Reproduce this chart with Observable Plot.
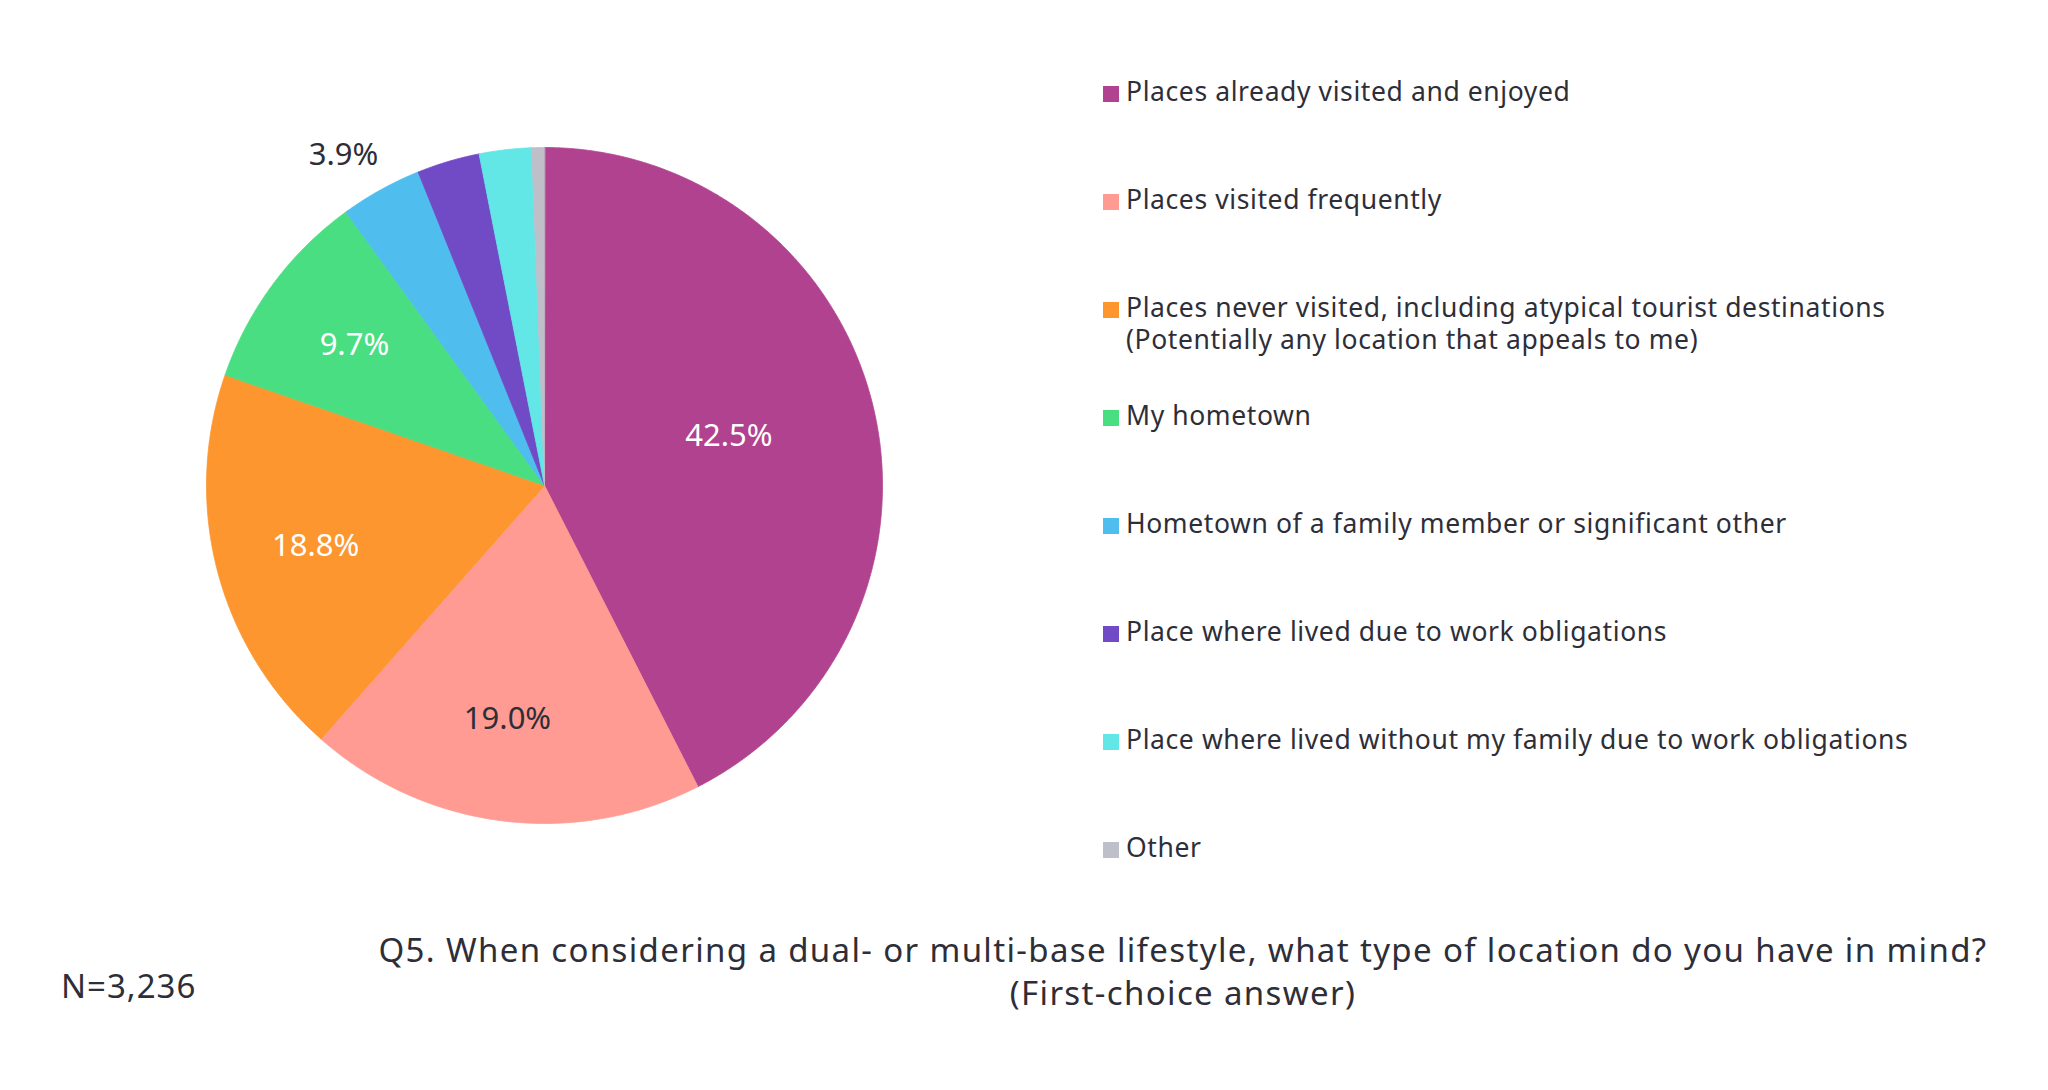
<!DOCTYPE html>
<html>
<head>
<meta charset="utf-8">
<script src="https://cdn.jsdelivr.net/npm/d3@7"></script>
<script src="https://cdn.jsdelivr.net/npm/@observablehq/plot@0.6"></script>
<style>
  html, body { margin: 0; padding: 0; background: #ffffff; }
  body { width: 2048px; height: 1090px; overflow: hidden; position: relative;
         font-family: "Noto Sans", sans-serif; color: #2e2e38; }
  #chart { position: absolute; left: 0; top: 0; }
  .lg-row { position: absolute; left: 1103px; }
  .lg-sw { position: absolute; left: 0; width: 16px; height: 16px; }
  .lg-tx { position: absolute; left: 23px; white-space: pre; font-size: 26.5px; line-height: 32px; letter-spacing: 0.6px; }
  #title { position: absolute; left: 280px; width: 1806px; top: 928px; text-align: center;
           font-size: 33px; line-height: 43px; letter-spacing: 1.35px; white-space: pre; }
  #nlabel { position: absolute; left: 61px; top: 964px; font-size: 33px; line-height: 43px; letter-spacing: 1px; }
</style>
</head>
<body>
<div id="chart"></div>
<div id="legend"></div>
<div id="title"></div>
<div id="nlabel"></div>
<script>
// ---- data ----
const categories = [
  "Places already visited and enjoyed",
  "Places visited frequently",
  "Places never visited, including atypical tourist destinations\n(Potentially any location that appeals to me)",
  "My hometown",
  "Hometown of a family member or significant other",
  "Place where lived due to work obligations",
  "Place where lived without my family due to work obligations",
  "Other"
];
const values = [42.5, 19.0, 18.8, 9.7, 3.9, 3.0, 2.5, 0.6];
const colors = ["#b1428f", "#ff9b93", "#fd962f", "#4ade82", "#4fbdee", "#714ac5", "#62e6e6", "#bfbfca"];
const titleText = "Q5. When considering a dual- or multi-base lifestyle, what type of location do you have in mind?\n(First-choice answer)";
const sampleText = "N=3,236";

// ---- style config (not data) ----
const darkLabelIdx = new Set([1]);     // label drawn dark on light slice
const minLabelValue = 3.5;             // smaller slices unlabeled
const outsideBelow = 5;                // labels outside for slices smaller than this

// ---- build pie geometry from values ----
const arcs = d3.pie().sort(null).value(d => d)(values);
const polys = [];
arcs.forEach((a, i) => {
  const cat = categories[i];
  polys.push({cat, x: 0, y: 0});
  const n = Math.max(2, Math.ceil((a.endAngle - a.startAngle) / (Math.PI / 720)));
  for (let k = 0; k <= n; k++) {
    const t = a.startAngle + (a.endAngle - a.startAngle) * k / n;
    polys.push({cat, x: Math.sin(t), y: Math.cos(t)});
  }
});

const deg = Math.PI / 180;
const labels = arcs.map((a, i) => {
  const v = values[i];
  let mid = (a.startAngle + a.endAngle) / 2;
  let rr;
  if (v >= 40) { rr = 0.565; mid -= 1.5 * deg; }
  else if (v >= outsideBelow) { rr = 0.70; if (darkLabelIdx.has(i)) mid += 1.8 * deg; }
  else { rr = 1.145; mid -= 2.3 * deg; }
  return {
    x: rr * Math.sin(mid), y: rr * Math.cos(mid),
    text: v.toFixed(1) + "%", v,
    dark: darkLabelIdx.has(i) || v < outsideBelow
  };
}).filter(d => d.v >= minLabelValue);

const W = 1000, H = 900;
const chart = Plot.plot({
  width: W, height: H,
  marginLeft: 206, marginRight: 118, marginTop: 147, marginBottom: 77,
  x: {domain: [-1, 1], axis: null},
  y: {domain: [-1, 1], axis: null},
  color: {domain: categories, range: colors},
  style: {background: "transparent", fontFamily: "Noto Sans, sans-serif"},
  marks: [
    Plot.line(polys, {x: "x", y: "y", z: "cat", fill: "cat", stroke: "cat", strokeWidth: 0.8, curve: "linear-closed"}),
    Plot.text(labels.filter(d => !d.dark), {x: "x", y: "y", text: "text", fill: "#ffffff", fontSize: 31, textAnchor: "middle"}),
    Plot.text(labels.filter(d => d.dark), {x: "x", y: "y", text: "text", fill: "#2e2e38", fontSize: 31, textAnchor: "middle"})
  ]
});
document.getElementById("chart").appendChild(chart);

// ---- legend (HTML) ----
const legend = document.getElementById("legend");
categories.forEach((c, i) => {
  const center = 94 + i * 108;
  const row = document.createElement("div");
  row.className = "lg-row";
  row.style.top = (center - 8) + "px";
  const sw = document.createElement("div");
  sw.className = "lg-sw";
  sw.style.top = "0px";
  sw.style.background = colors[i];
  const tx = document.createElement("div");
  tx.className = "lg-tx";
  tx.style.top = (8 + 7.5 - 26.3) + "px";
  tx.textContent = c;
  row.appendChild(sw);
  row.appendChild(tx);
  legend.appendChild(row);
});

document.getElementById("title").textContent = titleText;
document.getElementById("nlabel").textContent = sampleText;
</script>
</body>
</html>
